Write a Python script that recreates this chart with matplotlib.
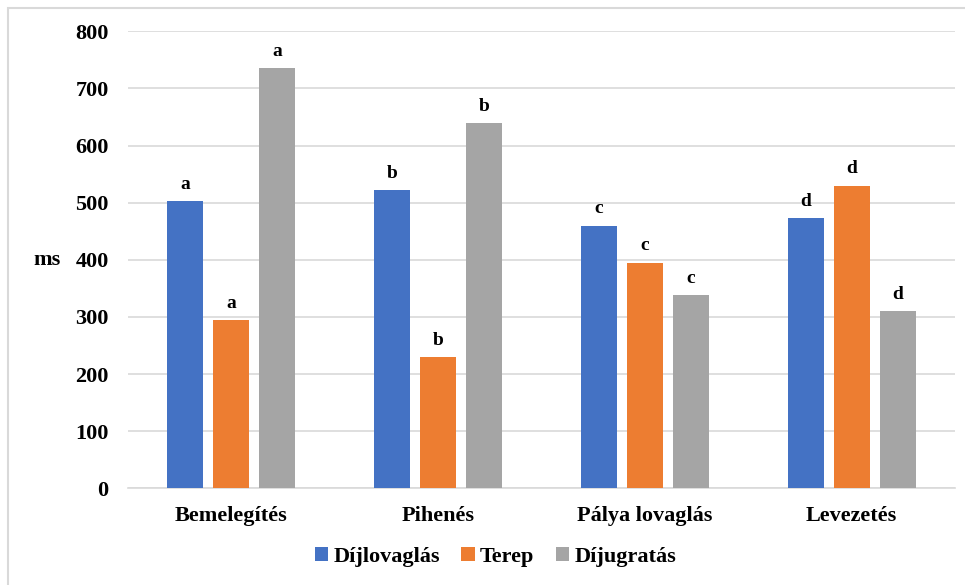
import matplotlib.pyplot as plt
import numpy as np
from matplotlib.patches import Rectangle

phases = ['Bemelegítés', 'Pihenés', 'Pálya lovaglás', 'Levezetés']
dijlovaglas = [503, 522, 460, 473]
terep = [294, 229, 395, 530]
dijugratas = [735, 639, 338, 310]
letters = ['a', 'b', 'c', 'd']

series = [('Díjlovaglás', dijlovaglas, '#4472C4'),
          ('Terep', terep, '#ED7D31'),
          ('Díjugratás', dijugratas, '#A5A5A5')]

plt.rcParams['font.family'] = ['Liberation Serif', 'DejaVu Serif']
plt.rcParams['font.weight'] = 'bold'

fig = plt.figure(figsize=(9.65, 5.85), dpi=100)
ax = fig.add_axes([0.1326, 0.1653, 0.857, 0.7812])

x = np.arange(len(phases))
width = 0.174
step = 0.2225

for i, (name, vals, color) in enumerate(series):
    pos = x + (i - 1) * step
    ax.bar(pos, vals, width, color=color, label=name, zorder=3)
    for px, v, letter in zip(pos, vals, letters):
        ax.annotate(letter, (px, v), xytext=(0, 6), textcoords='offset points',
                    ha='center', va='bottom', fontsize=14, fontweight='bold')

ax.set_xlim(-0.5, 3.5)
ax.set_ylim(0, 800)
ax.set_yticks(range(0, 801, 100))
ax.set_xticks(x)
ax.set_xticklabels(phases, fontsize=16, fontweight='bold')
ax.tick_params(axis='y', labelsize=16, length=0, pad=14)
ax.tick_params(axis='x', length=0, pad=13)
for lbl in ax.get_yticklabels():
    lbl.set_fontweight('bold')

ax.grid(axis='y', color='#d9d9d9', linewidth=1.2, zorder=0)
for side in ['top', 'right', 'left']:
    ax.spines[side].set_visible(False)
ax.spines['bottom'].set_color('#d9d9d9')
ax.spines['bottom'].set_linewidth(1.2)

ax.set_ylabel('ms', fontsize=16, fontweight='bold', rotation=0, labelpad=20, va='center')

fig.legend(loc='center', bbox_to_anchor=(0.5135, 0.048), ncol=3, frameon=False,
           fontsize=16, handlelength=0.6, handleheight=0.6, handletextpad=0.25,
           columnspacing=0.95)

# thin frame around the chart area
fig.patches.append(Rectangle((8 / 965, -0.1), 1.2, 1.1 - 8 / 585,
                             transform=fig.transFigure, fill=False,
                             edgecolor='#d9d9d9', linewidth=1.5))

fig.savefig('out.png', dpi=100)
